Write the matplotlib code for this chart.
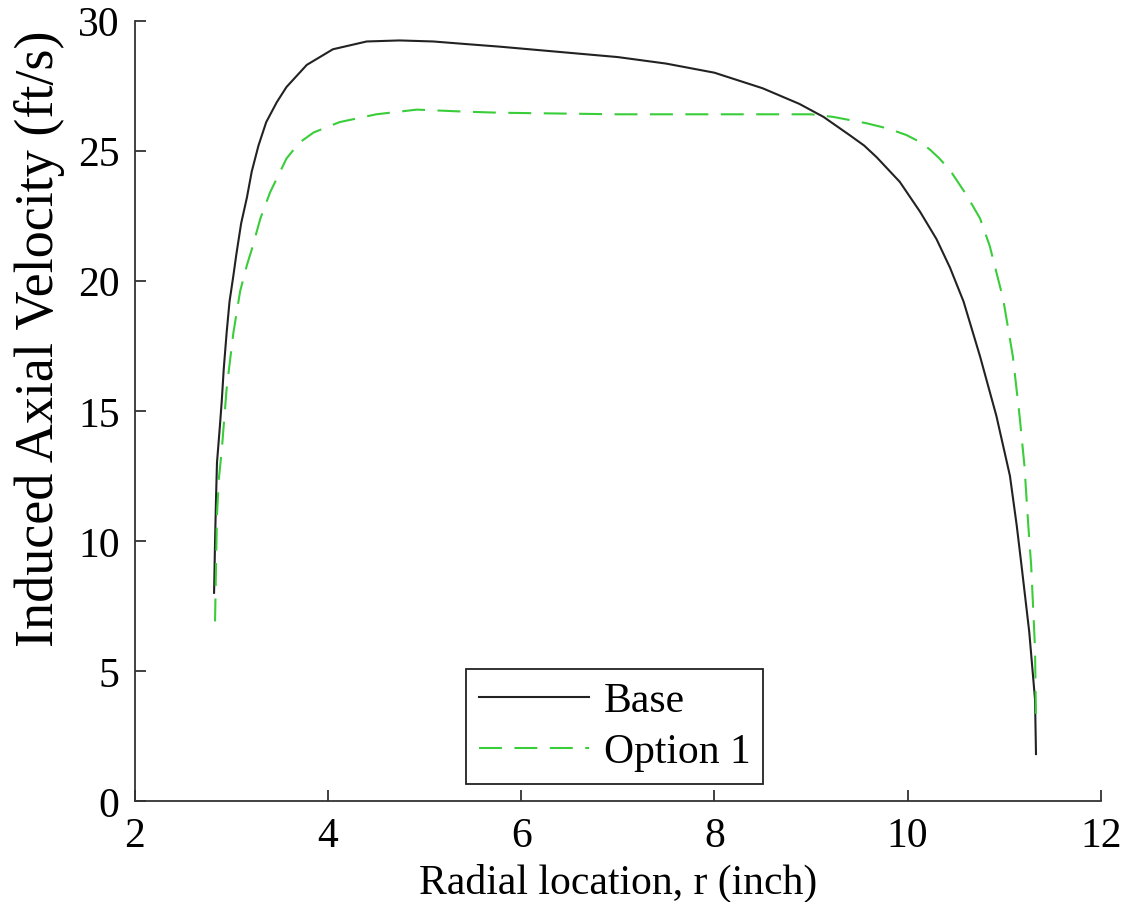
import matplotlib
matplotlib.use('Agg')
import matplotlib.pyplot as plt

# values
base_r = [2.82, 2.83, 2.84, 2.85, 2.88, 2.90, 2.92, 2.95, 2.98, 3.02, 3.05, 3.10, 3.16,
          3.21, 3.28, 3.36, 3.47, 3.57, 3.78, 4.05, 4.40, 4.74, 5.09, 5.43, 5.78, 7.0,
          7.5, 8.0, 8.5, 8.88, 9.13, 9.40, 9.55, 9.68, 9.92, 10.13, 10.30, 10.44, 10.58,
          10.75, 10.92, 11.06, 11.13, 11.18, 11.26, 11.32, 11.33]
base_v = [8.0, 9.95, 11.6, 13.0, 14.4, 15.4, 16.6, 18.0, 19.2, 20.2, 21.0, 22.2, 23.2,
          24.2, 25.2, 26.1, 26.87, 27.45, 28.3, 28.9, 29.2, 29.24, 29.2, 29.1, 29.0, 28.6,
          28.35, 28.0, 27.4, 26.8, 26.3, 25.6, 25.2, 24.75, 23.8, 22.65, 21.6, 20.5, 19.2,
          17.1, 14.8, 12.5, 10.6, 9.05, 6.5, 3.9, 1.8]

opt1_r = [2.83, 2.84, 2.85, 2.87, 2.90, 2.95, 3.02, 3.09, 3.16, 3.21, 3.30, 3.40, 3.57,
          3.70, 3.85, 4.12, 4.50, 4.92, 5.43, 5.78, 7.0, 8.0, 9.0, 9.23, 9.57, 9.80, 9.99,
          10.12, 10.23, 10.33, 10.44, 10.61, 10.75, 10.85, 10.99, 11.09, 11.16, 11.21,
          11.25, 11.28, 11.32, 11.33]
opt1_v = [6.9, 9.0, 11.0, 12.4, 13.5, 15.85, 18.0, 19.6, 20.6, 21.2, 22.4, 23.4, 24.7,
          25.3, 25.7, 26.1, 26.4, 26.58, 26.5, 26.46, 26.4, 26.4, 26.4, 26.3, 26.06, 25.85,
          25.6, 25.35, 25.05, 24.7, 24.25, 23.3, 22.4, 21.35, 19.3, 17.1, 14.8, 12.9,
          10.6, 9.05, 5.85, 3.0]

plt.rcParams['font.family'] = ['Liberation Serif', 'DejaVu Serif']

fig = plt.figure(figsize=(11.43, 9.03), dpi=100)
ax = fig.add_axes([0.118, 0.112, 0.845, 0.864])

ax.plot(base_r, base_v, color='#222222', lw=1.5, label='Base')
ax.plot(opt1_r, opt1_v, color='#3acd3a', lw=1.5, dashes=(11, 6), label='Option 1')

ax.set_xlim(2, 12)
ax.set_ylim(0, 30)
ax.set_xticks([2, 4, 6, 8, 10, 12])
ax.set_yticks([0, 5, 10, 15, 20, 25, 30])
ax.spines['top'].set_visible(False)
ax.spines['right'].set_visible(False)
for s in ['left', 'bottom']:
    ax.spines[s].set_color('#333333')
    ax.spines[s].set_linewidth(1.3)
ax.tick_params(direction='in', length=8, width=1.3, colors='#333333',
               labelcolor='black', labelsize=30, pad=11)

ax.set_xlabel('Radial location, r (inch)', fontsize=30, labelpad=6)
ax.set_ylabel('Induced Axial Velocity (ft/s)', fontsize=39)
ax.yaxis.set_label_coords(-0.072, 0.594)

leg = ax.legend(loc='lower left', bbox_to_anchor=(0.343, 0.022), borderaxespad=0,
                fontsize=30, fancybox=False, edgecolor='#222222', framealpha=1,
                handlelength=2.64, handletextpad=0.36, borderpad=0.3, labelspacing=0.3)
leg.get_frame().set_linewidth(1.3)

fig.savefig('out.png', dpi=100)
